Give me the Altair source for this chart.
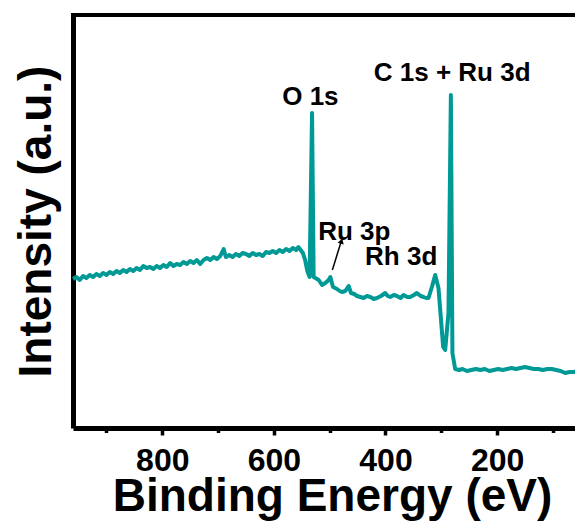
import altair as alt
import pandas as pd

# Binding energy (eV) and intensity (a.u.)
be = [960, 954, 948, 942, 936, 930, 924, 918, 912, 906,
      900, 894, 888, 882, 876, 870, 864, 858, 852, 846,
      840, 834, 828, 822, 816, 810, 804, 798, 792, 786,
      780, 774, 768, 762, 756, 750, 744, 738, 732, 726,
      720, 714, 708, 702, 696, 690, 686, 680, 674, 668,
      662, 656, 650, 644, 638, 632, 626, 620, 614, 608,
      602, 596, 590, 584, 578, 572, 566, 560, 556, 552,
      548, 544, 540, 536, 531.6, 528.7, 525.6, 519.7, 513.7, 507.8,
      501.8, 498.8, 494.0, 486.8, 482, 477.9, 472.0, 466.0, 461.8, 456,
      451.0, 445, 439.2, 433, 427.2, 421, 415.2, 408, 400.4, 396,
      391.4, 385, 379.4, 373, 367.6, 361, 355.6, 349, 343.7, 337,
      331.8, 327, 322.9, 316.8, 310.9, 305.0, 296.6, 293.0, 287.1, 282.8,
      280.0, 275.1, 268, 262, 254, 246, 238, 230, 222, 214,
      206, 198, 190, 182, 174, 166, 158, 150, 142, 134,
      126, 118, 110, 102, 94, 86, 78, 70, 62, 54, 46]
intensity = [149, 151, 148, 152, 150, 153, 151, 154, 152, 155,
             153, 156, 154, 157, 155, 158, 156, 159, 157, 160,
             158, 162, 160, 161, 159, 162, 160, 163, 161, 165,
             162, 164, 163, 166, 164, 167, 165, 168, 164, 168,
             170, 168, 171, 169, 172, 179, 171, 173, 171, 174,
             172, 175, 174, 172, 175, 173, 174, 172, 176, 175,
             177, 175, 178, 176, 179, 177, 180, 178, 181, 178,
             175, 168, 157, 151, 315, 151, 150, 148, 143, 145,
             148, 151, 141, 139, 137, 136, 137, 142, 135, 134,
             132, 131, 130, 132, 131, 129, 130, 132, 135, 132,
             131, 133, 132, 130, 133, 131, 131, 133, 135, 132,
             131, 130, 130, 141, 153, 140, 81, 78, 115, 333,
             75, 59, 58, 59, 57, 58, 59, 58, 59, 57,
             58, 59, 58, 59, 60, 59, 60, 61, 60, 59,
             59, 58, 59, 59, 58, 57, 55, 56, 56, 58, 59]

tick_values = [100, 200, 300, 400, 500, 600, 700, 800, 900]

ann_text = ["O 1s", "C 1s + Ru 3d", "Ru 3p", "Rh 3d"]
ann_x = [534.6, 280.5, 455.9, 371.8]
ann_y = [323, 347, 188, 163]

arrow_x = [495.2, 479.1]
arrow_y = [158, 187]
head_x = [478.9]
head_y = [187]

FONT = "Liberation Sans"
COLOR = "#009a96"
W, H = 502, 413      # visible plot box (the reference plot runs off the right edge)
RANGE_W = 510        # full scale range, clipped at the image edge

spec = pd.DataFrame({"be": be, "intensity": intensity})
ann = pd.DataFrame({"t": ann_text, "x": ann_x, "y": ann_y})
arrow = pd.DataFrame({"x": arrow_x, "y": arrow_y})
head = pd.DataFrame({"x": head_x, "y": head_y})

xscale = alt.Scale(domain=[46, 960], range=[RANGE_W, 0], nice=False, zero=False)
yscale = alt.Scale(domain=[0, 413], nice=False, zero=False)

xaxis = alt.Axis(
    values=tick_values,
    labelExpr="datum.value % 200 === 0 ? datum.label : ''",
    tickSize={"condition": {"test": "datum.value % 200 === 0", "value": 7}, "value": 4.5},
    tickWidth=3.5, tickColor="black",
    domainWidth=5, domainColor="black",
    labelFont=FONT, labelFontSize=32, labelFontWeight="bold", labelColor="black",
    labelPadding=10, grid=False,
    title="Binding Energy (eV)", titleFont=FONT, titleFontSize=46,
    titleFontWeight="bold", titleColor="black",
    titleBaseline="alphabetic", titleY=82, titleX=259,
)
yaxis = alt.Axis(
    ticks=False, labels=False, grid=False,
    domainWidth=5, domainColor="black",
    title="Intensity (a.u.)", titleFont=FONT, titleFontSize=46,
    titleFontWeight="bold", titleColor="black",
    titleBaseline="alphabetic", titleX=-23, titleY=206, titleAngle=270,
    titleAlign="center",
)

line = alt.Chart(spec).mark_line(color=COLOR, strokeWidth=4, strokeJoin="round").encode(
    x=alt.X("be:Q", scale=xscale, axis=xaxis),
    y=alt.Y("intensity:Q", scale=yscale, axis=yaxis),
)

top_border = alt.Chart(spec).mark_rule(color="black", strokeWidth=4).encode(
    x=alt.value(-2), x2=alt.value(RANGE_W), y=alt.value(0)
)

labels = alt.Chart(ann).mark_text(
    font=FONT, fontSize=26, fontWeight="bold", color="black",
    align="center", baseline="alphabetic"
).encode(
    x=alt.X("x:Q", scale=xscale),
    y=alt.Y("y:Q", scale=yscale),
    text="t:N",
)

arrow_line = alt.Chart(arrow).mark_line(color="black", strokeWidth=1.5).encode(
    x=alt.X("x:Q", scale=xscale),
    y=alt.Y("y:Q", scale=yscale),
)

arrow_head = alt.Chart(head).mark_point(
    shape="triangle-up", filled=True, color="black", size=40, angle=17, opacity=1
).encode(
    x=alt.X("x:Q", scale=xscale),
    y=alt.Y("y:Q", scale=yscale),
)

chart = alt.layer(line, top_border, labels, arrow_line, arrow_head).properties(
    width=W, height=H,
    padding={"left": 65, "top": 7, "right": 0, "bottom": 93},
    autosize=alt.AutoSizeParams(type="none"),
    background="white",
).configure_view(stroke=None)

chart.save("out.html", embed_options={"renderer": "svg", "actions": False})
